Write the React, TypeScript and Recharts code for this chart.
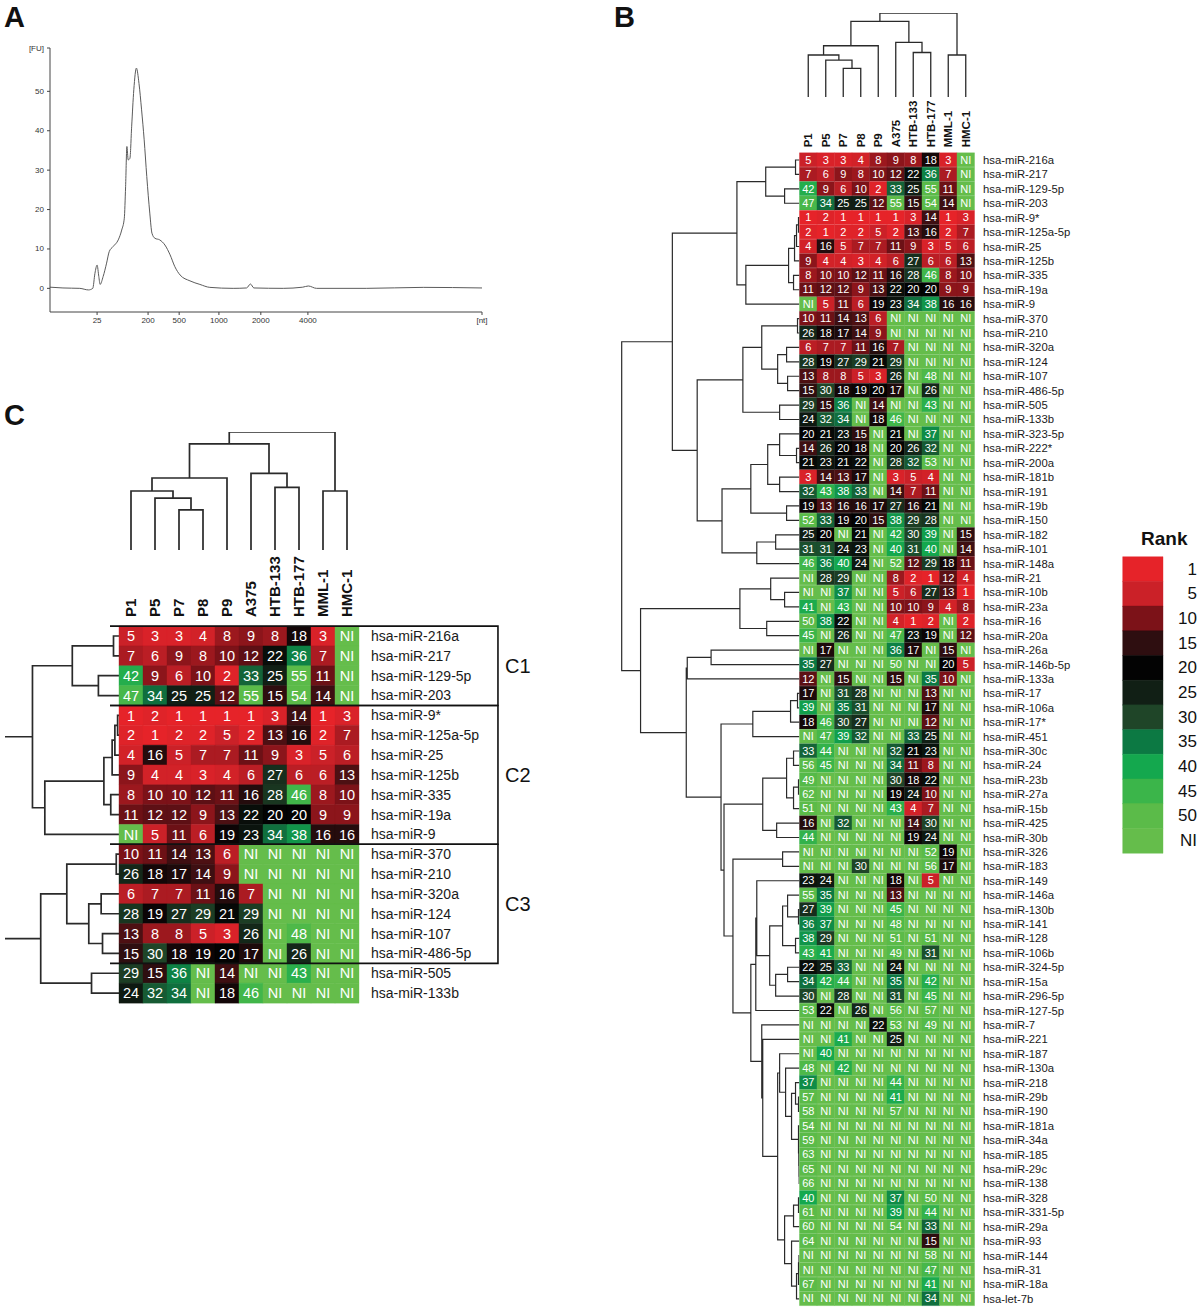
import React from 'react';
import { LineChart, Line, XAxis, YAxis, BarChart, Bar, Cell, LabelList, ReferenceArea } from 'recharts';

const FONT = '"Liberation Sans", Arial, Helvetica, sans-serif';

// ---------- panel A: electropherogram ----------
const traceTime = [0, 3, 6.9, 8.9, 9.9, 10.4, 10.9, 11.3, 11.6, 12.3, 13.1, 13.7, 14.6, 15.8, 16.6, 17.2, 17.5, 17.8, 18.1, 18.5, 18.9, 19.4, 20.0, 20.6, 21.2, 21.8, 22.4, 23.1, 23.6, 24.3, 25.4, 26.6, 27.8, 28.9, 30.1, 32.4, 34.7, 37, 42.4, 45.5, 46.4, 47.2, 54, 58.5, 59.8, 61.7, 73.2, 86.4, 100];
const traceFU = [0.3, 0.1, 0, -0.4, 0, 3.8, 5.9, 3, 1.0, 3, 6.4, 9.3, 10.6, 12.3, 14.8, 17.8, 25.8, 36, 32.6, 33, 41, 50.4, 55.9, 52, 45.3, 37.7, 28.4, 19.1, 14, 12.7, 12.3, 11, 8.5, 5.5, 3.4, 1.9, 1.0, 0.25, 0, 0.1, 1.1, 0.1, 0, 0.3, 0.6, 0, 0, 0.25, 0.1];
const sizeTickPos = [10.9, 22.7, 29.9, 39.1, 48.8, 59.7, 100];
const sizeTickLabels = ['25', '200', '500', '1000', '2000', '4000', '[nt]'];
const fuTicks = [0, 10, 20, 30, 40, 50, 61];
const fuTickLabels = ['0', '10', '20', '30', '40', '50', '[FU]'];

// ---------- heatmap data ----------
const columns = ['P1', 'P5', 'P7', 'P8', 'P9', 'A375', 'HTB-133', 'HTB-177', 'MML-1', 'HMC-1'];

const mirnas = ['hsa-miR-216a', 'hsa-miR-217', 'hsa-miR-129-5p', 'hsa-miR-203', 'hsa-miR-9*', 'hsa-miR-125a-5p', 'hsa-miR-25', 'hsa-miR-125b', 'hsa-miR-335', 'hsa-miR-19a', 'hsa-miR-9', 'hsa-miR-370', 'hsa-miR-210', 'hsa-miR-320a', 'hsa-miR-124', 'hsa-miR-107', 'hsa-miR-486-5p', 'hsa-miR-505', 'hsa-miR-133b', 'hsa-miR-323-5p', 'hsa-miR-222*', 'hsa-miR-200a', 'hsa-miR-181b', 'hsa-miR-191', 'hsa-miR-19b', 'hsa-miR-150', 'hsa-miR-182', 'hsa-miR-101', 'hsa-miR-148a', 'hsa-miR-21', 'hsa-miR-10b', 'hsa-miR-23a', 'hsa-miR-16', 'hsa-miR-20a', 'hsa-miR-26a', 'hsa-miR-146b-5p', 'hsa-miR-133a', 'hsa-miR-17', 'hsa-miR-106a', 'hsa-miR-17*', 'hsa-miR-451', 'hsa-miR-30c', 'hsa-miR-24', 'hsa-miR-23b', 'hsa-miR-27a', 'hsa-miR-15b', 'hsa-miR-425', 'hsa-miR-30b', 'hsa-miR-326', 'hsa-miR-183', 'hsa-miR-149', 'hsa-miR-146a', 'hsa-miR-130b', 'hsa-miR-141', 'hsa-miR-128', 'hsa-miR-106b', 'hsa-miR-324-5p', 'hsa-miR-15a', 'hsa-miR-296-5p', 'hsa-miR-127-5p', 'hsa-miR-7', 'hsa-miR-221', 'hsa-miR-187', 'hsa-miR-130a', 'hsa-miR-218', 'hsa-miR-29b', 'hsa-miR-190', 'hsa-miR-181a', 'hsa-miR-34a', 'hsa-miR-185', 'hsa-miR-29c', 'hsa-miR-138', 'hsa-miR-328', 'hsa-miR-331-5p', 'hsa-miR-29a', 'hsa-miR-93', 'hsa-miR-144', 'hsa-miR-31', 'hsa-miR-18a', 'hsa-let-7b'];

const N = null; // NI = not identified
const ranks: (number | null)[][] = [
  [5, 3, 3, 4, 8, 9, 8, 18, 3, N],
  [7, 6, 9, 8, 10, 12, 22, 36, 7, N],
  [42, 9, 6, 10, 2, 33, 25, 55, 11, N],
  [47, 34, 25, 25, 12, 55, 15, 54, 14, N],
  [1, 2, 1, 1, 1, 1, 3, 14, 1, 3],
  [2, 1, 2, 2, 5, 2, 13, 16, 2, 7],
  [4, 16, 5, 7, 7, 11, 9, 3, 5, 6],
  [9, 4, 4, 3, 4, 6, 27, 6, 6, 13],
  [8, 10, 10, 12, 11, 16, 28, 46, 8, 10],
  [11, 12, 12, 9, 13, 22, 20, 20, 9, 9],
  [N, 5, 11, 6, 19, 23, 34, 38, 16, 16],
  [10, 11, 14, 13, 6, N, N, N, N, N],
  [26, 18, 17, 14, 9, N, N, N, N, N],
  [6, 7, 7, 11, 16, 7, N, N, N, N],
  [28, 19, 27, 29, 21, 29, N, N, N, N],
  [13, 8, 8, 5, 3, 26, N, 48, N, N],
  [15, 30, 18, 19, 20, 17, N, 26, N, N],
  [29, 15, 36, N, 14, N, N, 43, N, N],
  [24, 32, 34, N, 18, 46, N, N, N, N],
  [20, 21, 23, 15, N, 21, N, 37, N, N],
  [14, 26, 20, 18, N, 20, 26, 32, N, N],
  [21, 23, 21, 22, N, 28, 32, 53, N, N],
  [3, 14, 13, 17, N, 3, 5, 4, N, N],
  [32, 43, 38, 33, N, 14, 7, 11, N, N],
  [19, 13, 16, 16, 17, 27, 16, 21, N, N],
  [52, 33, 19, 20, 15, 38, 29, 28, N, N],
  [25, 20, N, 21, N, 42, 30, 39, N, 15],
  [31, 31, 24, 23, N, 40, 31, 40, N, 14],
  [46, 36, 40, 24, N, 52, 12, 29, 18, 11],
  [N, 28, 29, N, N, 8, 2, 1, 12, 4],
  [N, N, 37, N, N, 5, 6, 27, 13, 1],
  [41, N, 43, N, N, 10, 10, 9, 4, 8],
  [50, 38, 22, N, N, 4, 1, 2, N, 2],
  [45, N, 26, N, N, 47, 23, 19, N, 12],
  [N, 17, N, N, N, 36, 17, N, 15, N],
  [35, 27, N, N, N, 50, N, N, 20, 5],
  [12, N, 15, N, N, 15, N, 35, 10, N],
  [17, N, 31, 28, N, N, N, 13, N, N],
  [39, N, 35, 31, N, N, N, 17, N, N],
  [18, 46, 30, 27, N, N, N, 12, N, N],
  [N, 47, 39, 32, N, N, 33, 25, N, N],
  [33, 44, N, N, N, 32, 21, 23, N, N],
  [56, 45, N, N, N, 34, 11, 8, N, N],
  [49, N, N, N, N, 30, 18, 22, N, N],
  [62, N, N, N, N, 19, 24, 10, N, N],
  [51, N, N, N, N, 43, 4, 7, N, N],
  [16, N, 32, N, N, N, 14, 30, N, N],
  [44, N, N, N, N, N, 19, 24, N, N],
  [N, N, N, N, N, N, N, 52, 19, N],
  [N, N, N, 30, N, N, N, 56, 17, N],
  [23, 24, N, N, N, 18, N, 5, N, N],
  [55, 35, N, N, N, 13, N, N, N, N],
  [27, 39, N, N, N, 45, N, N, N, N],
  [36, 37, N, N, N, 48, N, N, N, N],
  [38, 29, N, N, N, 51, N, 51, N, N],
  [43, 41, N, N, N, 49, N, 31, N, N],
  [22, 25, 33, N, N, 24, N, N, N, N],
  [34, 42, 44, N, N, 35, N, 42, N, N],
  [30, N, 28, N, N, 31, N, 45, N, N],
  [53, 22, N, 26, N, 56, N, 57, N, N],
  [N, N, N, N, 22, 53, N, 49, N, N],
  [N, N, 41, N, N, 25, N, N, N, N],
  [N, 40, N, N, N, N, N, N, N, N],
  [48, N, 42, N, N, N, N, N, N, N],
  [37, N, N, N, N, 44, N, N, N, N],
  [57, N, N, N, N, 41, N, N, N, N],
  [58, N, N, N, N, 57, N, N, N, N],
  [54, N, N, N, N, N, N, N, N, N],
  [59, N, N, N, N, N, N, N, N, N],
  [63, N, N, N, N, N, N, N, N, N],
  [65, N, N, N, N, N, N, N, N, N],
  [66, N, N, N, N, N, N, N, N, N],
  [40, N, N, N, N, 37, N, 50, N, N],
  [61, N, N, N, N, 39, N, 44, N, N],
  [60, N, N, N, N, 54, N, 33, N, N],
  [64, N, N, N, N, N, N, 15, N, N],
  [N, N, N, N, N, N, N, 58, N, N],
  [N, N, N, N, N, N, N, 47, N, N],
  [67, N, N, N, N, N, N, 41, N, N],
  [N, N, N, N, N, N, N, 34, N, N],
];

// panel C shows the first 19 miRNAs, boxed into three clusters
const cRowCount = 19;
const clusterLabels = ['C1', 'C2', 'C3'];
const clusterFirst = [0, 4, 11];
const clusterLast = [3, 10, 16];

// colour key
const rankStops = [1, 5, 10, 15, 20, 25, 30, 35, 40, 45, 50];
const rankColors = ['#E62329', '#CB2128', '#7C1218', '#2E0E10', '#030303', '#111F15', '#1F4528', '#0C7943', '#14A84E', '#3BB54A', '#5BBB49'];
const niColor = '#65BD4B';
const legendLabels = ['1', '5', '10', '15', '20', '25', '30', '35', '40', '45', '50', 'NI'];

// ---------- dendrograms: [node, child, child, height]; numbers are leaves ----------
type Merge = [string, string | number, string | number, number];

const colMerges: Merge[] = [
  ['p78', 2, 3, 0.34], ['p578', 1, 'p78', 0.44], ['p1578', 0, 'p578', 0.5], ['pat', 'p1578', 4, 0.61],
  ['htb', 6, 7, 0.53], ['cell', 5, 'htb', 0.65], ['mel', 8, 9, 0.5], ['mid', 'pat', 'cell', 0.9], ['root', 'mid', 'mel', 1],
];

const rowMerges: Merge[] = [
  ['a', 0, 1, 4], ['b', 2, 3, 15], ['c1', 'a', 'b', 34],
  ['d', 4, 5, 1], ['e', 'd', 6, 3], ['f', 'e', 7, 5], ['g', 8, 9, 6], ['h', 'f', 'g', 11], ['c2', 'h', 10, 54],
  ['c12', 'c1', 'c2', 63],
  ['i', 11, 12, 2], ['j', 13, 14, 13], ['k', 15, 16, 12], ['l', 'j', 'k', 22], ['a1', 'i', 'l', 38], ['m', 17, 18, 20], ['a2', 'a1', 'm', 57],
  ['n', 20, 21, 3], ['o', 19, 'n', 20], ['p', 22, 23, 20], ['q', 'o', 'p', 32], ['r', 24, 25, 13], ['b2', 'q', 'r', 49],
  ['s', 26, 27, 24], ['b3', 's', 28, 43], ['bb', 'b2', 'b3', 78],
  ['ab', 'a2', 'bb', 103], ['top', 'c12', 'ab', 128],
  ['t', 30, 31, 15], ['u', 29, 't', 29], ['v', 32, 33, 33], ['d1', 'u', 'v', 60],
  ['w', 34, 35, 89], ['x', 'w', 36, 113],
  ['y', 37, 38, 2], ['z', 'y', 39, 9], ['e1', 'z', 40, 47],
  ['f1a', 41, 42, 6], ['f1b', 43, 44, 1], ['f1c', 'f1b', 45, 6], ['f1d', 'f1a', 'f1c', 13], ['f1e', 46, 47, 23], ['f1', 'f1d', 'f1e', 37],
  ['g1', 48, 49, 17],
  ['g2', 52, 53, 1], ['g3', 51, 'g2', 12], ['g4', 54, 55, 4], ['g5', 'g3', 'g4', 17], ['g6', 56, 57, 12], ['g7', 'g6', 58, 24],
  ['g8', 'g5', 'g7', 30], ['g9', 50, 'g8', 43], ['gg', 'g9', 59, 44],
  ['h1', 65, 66, 1], ['h2', 64, 'h1', 4], ['h3', 70, 71, 0.3], ['h4', 69, 'h3', 0.5], ['h5', 68, 'h4', 0.7], ['h6', 67, 'h5', 1],
  ['h7', 'h2', 'h6', 8], ['h8', 63, 'h7', 14], ['hh', 62, 'h8', 20],
  ['j1', 72, 73, 1], ['j2', 'j1', 74, 6], ['j3', 76, 77, 0.5], ['j4', 'j3', 78, 1], ['j5', 'j4', 79, 3], ['j6', 75, 'j5', 8], ['jj', 'j2', 'j6', 15],
  ['hj', 'hh', 'jj', 22], ['k1', 61, 'hj', 37], ['k2', 60, 'k1', 38],
  ['gk', 'gg', 'k2', 49], ['g1gk', 'g1', 'gk', 67], ['fg', 'f1', 'g1gk', 76], ['efg', 'e1', 'fg', 79],
  ['xe', 'x', 'efg', 114], ['bot', 'd1', 'xe', 160], ['rootR', 'top', 'bot', 179],
];

// ---------- helpers ----------
const hexRgb = (h: string) => [1, 3, 5].map(i => parseInt(h.slice(i, i + 2), 16));
function rankColor(r: number | null) {
  if (r == null) return niColor;
  if (r >= 50) return rankColors[rankColors.length - 1];
  let k = 0;
  while (rankStops[k + 1] < r) k++;
  const f = (r - rankStops[k]) / (rankStops[k + 1] - rankStops[k]);
  const a = hexRgb(rankColors[k]);
  const b = hexRgb(rankColors[k + 1]);
  return `rgb(${a.map((v, i) => Math.round(v + (b[i] - v) * f)).join(',')})`;
}

type Pt = { h: number; p: number };
function buildDendro(merges: Merge[], keep?: (leaf: number) => boolean, stemTo?: number): Pt[][] {
  const nodes: Record<string, { h: number; p: number; leaves: number[] }> = {};
  const look = (k: string | number) => (typeof k === 'number' ? { h: 0, p: k, leaves: [k] } : nodes[k]);
  const segs: Pt[][] = [];
  const drawn: string[] = [];
  const used = new Set<string>();
  merges.forEach(([id, a, b, h]) => {
    const A = look(a);
    const B = look(b);
    const leaves = A.leaves.concat(B.leaves);
    nodes[id] = { h, p: (A.p + B.p) / 2, leaves };
    if (keep && !leaves.every(keep)) return;
    segs.push([{ h: A.h, p: A.p }, { h, p: A.p }, { h, p: B.p }, { h: B.h, p: B.p }]);
    drawn.push(id);
    [a, b].forEach(c => { if (typeof c === 'string') used.add(c); });
  });
  if (stemTo !== undefined) {
    drawn.filter(id => !used.has(id)).forEach(id => segs.push([{ h: nodes[id].h, p: nodes[id].p }, { h: stemTo, p: nodes[id].p }]));
  }
  return segs;
}

type Margin = { top: number; right: number; bottom: number; left: number };
const colTicks = columns.map((_, j) => j + 0.5);

function RowDendro(props: { left: number; top: number; width: number; height: number; margin: Margin; n: number; maxH: number; keep?: (l: number) => boolean; stemTo?: number; sw: number }) {
  const segs = buildDendro(rowMerges, props.keep, props.stemTo);
  const data = segs.flatMap(s => [...s, { h: s[s.length - 1].h, p: null as number | null }]);
  return (
    <div style={{ position: 'absolute', left: props.left, top: props.top }}>
      <LineChart width={props.width} height={props.height} data={data} margin={props.margin}>
        <XAxis type="number" dataKey="h" domain={[0, props.maxH]} reversed hide allowDataOverflow />
        <YAxis type="number" domain={[-0.5, props.n - 0.5]} reversed hide allowDataOverflow />
        <Line dataKey="p" type="linear" stroke="#2a2a2a" strokeWidth={props.sw} dot={false} connectNulls={false} isAnimationActive={false} />
      </LineChart>
    </div>
  );
}

function ColDendro(props: { left: number; top: number; width: number; height: number; margin: Margin; sw: number }) {
  const segs = buildDendro(colMerges);
  const data = segs.flatMap(s => [...s.map(q => ({ c: q.p + 0.5, h: q.h as number | null })), { c: s[s.length - 1].p + 0.5, h: null }]);
  return (
    <div style={{ position: 'absolute', left: props.left, top: props.top }}>
      <LineChart width={props.width} height={props.height} data={data} margin={props.margin}>
        <XAxis type="number" dataKey="c" domain={[0, 10]} hide allowDataOverflow />
        <YAxis type="number" domain={[0, 1]} hide allowDataOverflow />
        <Line dataKey="h" type="linear" stroke="#2a2a2a" strokeWidth={props.sw} dot={false} connectNulls={false} isAnimationActive={false} />
      </LineChart>
    </div>
  );
}

function Heatmap(p: { count: number; left: number; top: number; width: number; height: number; margin: Margin; xAxisH: number; yAxisW: number; colFont: number; colGap: number; rowFont: number; rowGap: number; cellFont: number }) {
  const rows = ranks.slice(0, p.count);
  const data = mirnas.slice(0, p.count).map((name, i) => {
    const row: Record<string, string | number> = { name };
    columns.forEach((_, j) => {
      row['w' + j] = 1;
      row['t' + j] = rows[i][j] == null ? 'NI' : String(rows[i][j]);
    });
    return row;
  });
  return (
    <div style={{ position: 'absolute', left: p.left, top: p.top }}>
      <BarChart width={p.width} height={p.height} data={data} layout="vertical" margin={p.margin} barCategoryGap={0} barGap={0}>
        <XAxis
          type="number" orientation="top" domain={[0, 10]} ticks={colTicks} interval={0} height={p.xAxisH}
          axisLine={false} tickLine={false} tickSize={0} tickMargin={p.colGap}
          tick={(t: any) => (
            <text x={t.x} y={t.y} transform={`rotate(-90 ${t.x} ${t.y})`} textAnchor="start" dominantBaseline="central"
              fontSize={p.colFont} fontWeight="bold" fill="#111">
              {columns[Math.floor(t.payload.value)]}
            </text>
          )}
        />
        <YAxis type="category" dataKey="name" orientation="right" width={p.yAxisW} interval={0} axisLine={false} tickLine={false}
          tickSize={0} tickMargin={p.rowGap} tick={{ fontSize: p.rowFont, fill: '#1a1a1a' }} />
        {columns.map((c, j) => (
          <Bar key={c} dataKey={'w' + j} stackId="cells" isAnimationActive={false}>
            {rows.map((r, i) => <Cell key={i} fill={rankColor(r[j])} stroke={rankColor(r[j])} strokeWidth={0.4} />)}
            <LabelList dataKey={'t' + j} position="center" fill="#fff" fontSize={p.cellFont} />
          </Bar>
        ))}
      </BarChart>
    </div>
  );
}

const letter = (t: string, left: number, top: number) => (
  <div style={{ position: 'absolute', left, top, fontSize: 29, fontWeight: 'bold', lineHeight: '29px' }}>{t}</div>
);

const smallTick = (labels: string[], pos: number[], anchor: 'middle' | 'end') => (t: any) => (
  <text x={t.x} y={t.y} textAnchor={anchor} dominantBaseline={anchor === 'middle' ? 'hanging' : 'central'}
    fontSize={8} fill="#333" stroke="none">
    {labels[pos.indexOf(t.payload.value)]}
  </text>
);

export default function App() {
  const traceData = traceTime.map((t, i) => ({ t, fu: traceFU[i] }));
  const cNames = mirnas.slice(0, cRowCount);
  const boxData = cNames.map(name => ({ name, w: 0 }));
  const legendData = legendLabels.map(label => ({ label, w: 1 }));
  const legendFill = [...rankColors, niColor];

  return (
    <div style={{ position: 'absolute', left: 0, top: 0, width: 1200, height: 1309, overflow: 'hidden', background: '#fff', fontFamily: FONT, color: '#111' }}>
      {letter('A', 4, 3)}
      {letter('B', 614, 3)}
      {letter('C', 4, 401)}

      {/* A */}
      <div style={{ position: 'absolute', left: 0, top: 0 }}>
        <LineChart width={490} height={330} data={traceData} margin={{ top: 48, right: 8, bottom: 0, left: 10 }}>
          <XAxis type="number" dataKey="t" domain={[0, 100]} ticks={sizeTickPos} interval={0} height={18}
            tickSize={3} tickMargin={2} stroke="#444" tick={smallTick(sizeTickLabels, sizeTickPos, 'middle')} allowDataOverflow />
          <YAxis type="number" domain={[-6, 61]} ticks={fuTicks} interval={0} width={40}
            tickSize={3} tickMargin={3} stroke="#444" tick={smallTick(fuTickLabels, fuTicks, 'end')} allowDataOverflow />
          <Line dataKey="fu" type="monotone" stroke="#5b5b5b" strokeWidth={1} dot={false} isAnimationActive={false} />
        </LineChart>
      </div>

      {/* B */}
      <ColDendro left={790} top={5} width={195} height={100} margin={{ top: 8, right: 10.5, bottom: 8, left: 9.5 }} sw={1.3} />
      <RowDendro left={615} top={145} width={190} height={1164} margin={{ top: 7.8, right: 5.5, bottom: 3, left: 5.7 }} n={mirnas.length} maxH={180} sw={1.2} />
      <Heatmap count={mirnas.length} left={790} top={80} width={300} height={1228} margin={{ top: 2.8, right: 5.5, bottom: 2, left: 9.5 }}
        xAxisH={70} yAxisW={110} colFont={11.5} colGap={5.5} rowFont={11.3} rowGap={8.5} cellFont={11} />

      {/* legend */}
      <div style={{ position: 'absolute', left: 1141, top: 529, fontSize: 19, fontWeight: 'bold', lineHeight: '19px' }}>Rank</div>
      <div style={{ position: 'absolute', left: 1115, top: 550 }}>
        <BarChart width={85} height={310} data={legendData} layout="vertical" margin={{ top: 6.7, right: 0, bottom: 7, left: 7.7 }} barCategoryGap={0}>
          <XAxis type="number" domain={[0, 1]} hide />
          <YAxis type="category" dataKey="label" orientation="right" width={37} interval={0} axisLine={false} tickLine={false} tickSize={0} tickMargin={0}
            tick={(t: any) => (
              <text x={t.x + 34} y={t.y} textAnchor="end" dominantBaseline="central" fontSize={17} fill="#111">{t.payload.value}</text>
            )} />
          <Bar dataKey="w" isAnimationActive={false}>
            {legendFill.map((c, i) => <Cell key={i} fill={c} stroke={c} strokeWidth={0.4} />)}
          </Bar>
        </BarChart>
      </div>

      {/* C */}
      <ColDendro left={110} top={425} width={260} height={135} margin={{ top: 7, right: 11, bottom: 10, left: 9 }} sw={1.7} />
      <RowDendro left={0} top={620} width={125} height={390} margin={{ top: 6.1, right: 6, bottom: 7, left: 5 }} n={cRowCount} maxH={83}
        keep={(l: number) => l < cRowCount} stemTo={83} sw={1.7} />
      <Heatmap count={cRowCount} left={110} top={420} width={410} height={600} margin={{ top: 106.1, right: 11, bottom: 17, left: 9 }}
        xAxisH={100} yAxisW={150} colFont={15} colGap={9} rowFont={14} rowGap={12} cellFont={14.5} />
      <div style={{ position: 'absolute', left: 110, top: 420 }}>
        <BarChart width={440} height={600} data={boxData} layout="vertical" margin={{ top: 206.1, right: 191, bottom: 17, left: 9 }}>
          <XAxis type="number" domain={[0, 10]} hide />
          <YAxis type="category" dataKey="name" hide />
          <Bar dataKey="w" fill="none" isAnimationActive={false} />
          {clusterLabels.map((lab, k) => (
            <ReferenceArea key={lab} x1={-0.42} x2={15.79} y1={cNames[clusterFirst[k]]} y2={cNames[clusterLast[k]]}
              fill="none" stroke="#111" strokeWidth={1.6} fillOpacity={0} ifOverflow="visible"
              label={{ value: lab, position: 'right', offset: 7, fontSize: 20, fill: '#111' }} />
          ))}
        </BarChart>
      </div>
    </div>
  );
}
